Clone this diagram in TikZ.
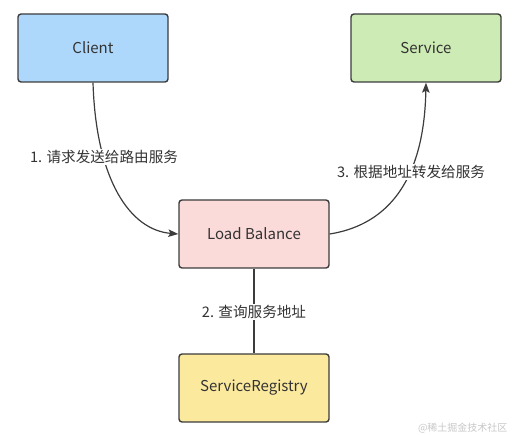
\documentclass[tikz,border=0pt]{standalone}
\usepackage{fontspec}
\setmainfont{Noto Sans CJK SC}
\usetikzlibrary{arrows.meta}
\definecolor{edgegray}{HTML}{3C3C3C}
\definecolor{txtgray}{HTML}{333333}
\definecolor{cblue}{HTML}{ADD8FB}
\definecolor{cgreen}{HTML}{CDEBB4}
\definecolor{cpink}{HTML}{FADBDA}
\definecolor{cyellow}{HTML}{FBE99E}
\tikzset{
  box/.style={draw=edgegray, line width=1.4pt, rounded corners=3pt, minimum width=150pt, minimum height=68pt, inner sep=0pt, text=txtgray, font=\fontsize{15}{17}\selectfont},
  conn/.style={draw=edgegray, line width=1.2pt},
  lbl/.style={fill=white, inner sep=1.5pt, text=txtgray, font=\fontsize{14.6}{17}\selectfont},
  tip/.style={-{Stealth[length=10pt,width=7.5pt,inset=2pt]}}
}
\begin{document}
\begin{tikzpicture}[x=1pt,y=-1pt]
\useasboundingbox (0,0) rectangle (514,435);
\node[box, fill=cblue] (client) at (93,48) {Client};
\node[box, fill=cgreen] (service) at (426,48) {Service};
\node[box, fill=cpink] (lb) at (254,234) {Load Balance};
\node[box, fill=cyellow] (reg) at (254,388) {ServiceRegistry};
\draw[conn, tip] (client.south) .. controls (96,180) and (130,230) .. (lb.west);
\draw[conn, tip] (lb.east) .. controls (380,226) and (424,190) .. (service.south);
\draw[conn] (lb.south) -- (reg.north);
\node[lbl] (l1) at (104,157) {1. 请求发送给路由服务};
\node[lbl] (l3) at (411,172) {3. 根据地址转发给服务};
\node[lbl] (l2) at (254,312) {2. 查询服务地址};
\node[text=black!22, font=\fontsize{10}{12}\selectfont, anchor=east] (wm) at (511,428) {@稀土掘金技术社区};
\end{tikzpicture}
\end{document}
